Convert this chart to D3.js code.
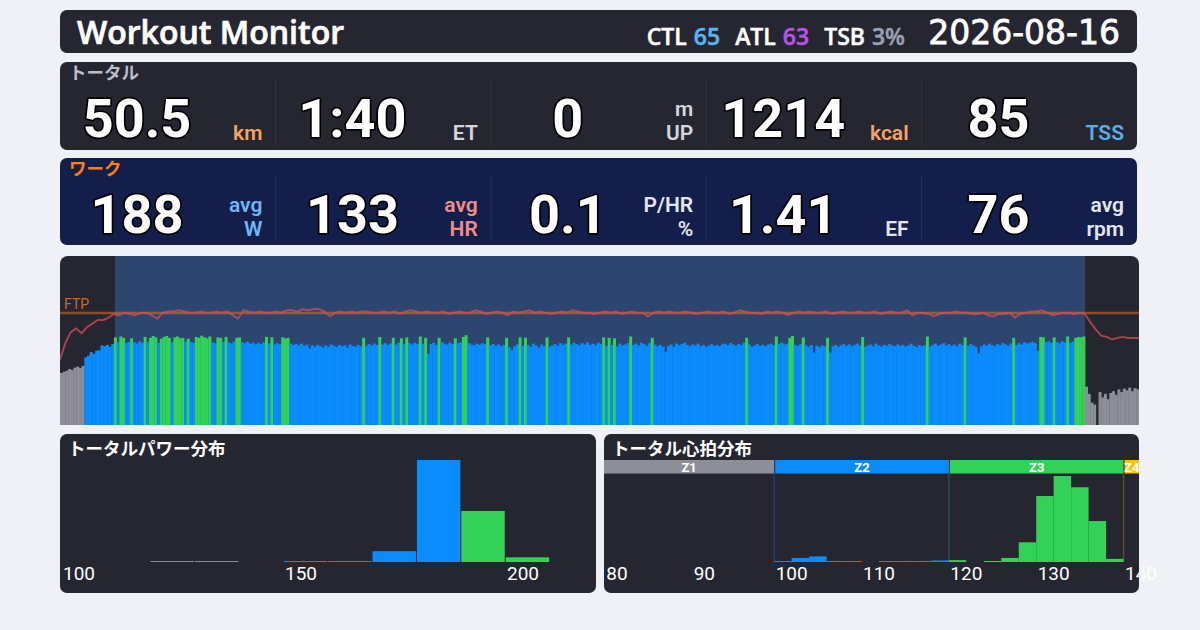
<!DOCTYPE html>
<html>
<head>
<meta charset="utf-8">
<script src="https://cdn.jsdelivr.net/npm/d3@7"></script>
<style>
  html, body { margin: 0; padding: 0; background: #eff1f6; }
  svg { display: block; }
</style>
</head>
<body>
<div id="moniteur"></div>
<script>
"use strict";

  // --- donnees ---
  var titre = "Workout Monitor";
  var dateSeance = "2026-08-16";
  var chargeNoms = ["CTL", "ATL", "TSB"];
  var chargeValeurs = ["65", "63", "3%"];

  var totalLabel = "トータル";
  var totalValeurs = ["50.5", "1:40", "0", "1214", "85"];
  var totalUnites = [["km"], ["ET"], ["m", "UP"], ["kcal"], ["TSS"]];

  var workLabel = "ワーク";
  var workValeurs = ["188", "133", "0.1", "1.41", "76"];
  var workUnites = [["avg", "W"], ["avg", "HR"], ["P/HR", "%"], ["EF"], ["avg", "rpm"]];

  var duree = 6000;          // secondes (1:40)
  var pasPuissance = 15;     // un echantillon toutes les 15 s
  var pasCardio = 30;        // un echantillon toutes les 30 s
  var intervalleWork = [305, 5700];
  var ftp = 252;
  var seuilsPuissance = [140, 190]; // Z1 | Z2 | Z3

  // puissance (W), 400 echantillons
  var puissance = [
    117,120,122,126,124,129,131,128,133,152,156,164,160,167,168,179,177,180,176,182,
    197,186,199,196,184,187,195,186,183,188,185,198,187,196,200,197,185,194,198,200,
    196,186,197,199,195,196,188,194,187,185,198,196,201,197,195,199,186,184,197,196,
    187,198,186,183,188,196,197,186,184,187,183,185,181,184,182,186,198,183,197,181,
    184,182,197,195,196,183,180,182,179,183,178,181,172,179,176,180,177,174,179,176,
    181,178,175,180,177,179,174,181,178,176,180,177,196,178,182,179,183,180,198,181,
    184,180,183,196,181,185,195,182,197,184,181,185,182,199,183,196,160,182,185,180,
    196,186,183,181,185,182,195,184,186,198,202,184,181,179,183,180,184,182,197,179,
    182,178,181,177,180,196,175,169,177,181,197,178,196,180,176,183,179,174,181,177,
    197,176,179,182,178,184,180,183,197,181,185,182,179,184,181,186,180,183,179,185,
    182,197,178,196,180,195,177,183,179,181,184,199,180,183,179,185,182,178,184,196,
    181,177,180,176,165,178,181,176,183,179,182,185,180,177,181,179,183,177,180,176,
    179,182,178,180,177,181,183,179,184,181,178,182,180,185,196,181,176,179,182,178,
    180,177,181,183,179,199,182,185,181,183,196,200,180,178,182,197,179,176,180,163,
    178,175,179,177,196,163,177,180,176,179,182,178,181,177,180,183,179,198,176,179,
    181,177,183,179,176,180,178,182,179,177,181,178,180,176,179,183,178,175,180,177,
    179,199,176,180,183,178,181,184,179,182,178,181,177,183,180,197,178,182,179,176,
    161,177,181,178,183,180,177,182,179,184,181,178,183,196,180,184,181,186,183,185,
    187,184,167,198,197,186,188,185,197,187,184,188,186,199,185,188,196,198,197,199,
    86,70,50,46,0,74,62,70,58,72,76,68,80,74,82,78,84,76,83,80
  ];

  // frequence cardiaque (bpm), 201 echantillons
  var cardio = [
    94,108,117,120,116,121,124,127,127,129,
    132,131,133,132,131,133,133,131,128,133,
    134,134,135,134,133,133,134,133,133,134,
    133,134,131,128,135,134,133,134,133,133,
    134,133,135,135,134,136,135,136,136,134,
    130,133,134,133,134,133,134,134,133,133,
    134,133,134,132,134,135,134,133,134,133,
    133,134,132,133,134,133,133,135,134,132,
    133,134,133,131,134,133,134,135,133,134,
    133,132,133,134,133,135,134,133,133,132,
    133,134,133,134,132,133,134,133,133,130,
    133,134,133,134,133,133,134,133,132,133,
    134,133,133,134,132,133,135,134,133,133,
    132,134,133,134,133,131,133,134,133,134,
    133,133,134,132,133,134,133,133,134,133,
    133,134,132,133,134,133,133,135,131,133,
    133,132,130,132,133,133,134,133,133,132,
    132,133,131,130,132,132,133,129,132,133,
    134,134,135,133,131,132,133,133,132,133,
    132,125,119,114,113,111,112,113,112,112,112
  ];

  // distribution de puissance (minutes par tranche de 10 W)
  var pTitre = "トータルパワー分布";
  var pTranches = [116, 126, 136, 146, 156, 166, 176, 186, 196];
  var pMinutes = [0.4, 0.4, 0, 0.4, 0.4, 5.3, 50, 25, 2.3];
  var pGraduations = [100, 150, 200];

  // distribution cardiaque (minutes par tranche de 2 bpm)
  var hTitre = "トータル心拍分布";
  var hTranches = [98,100,102,104,106,108,110,112,114,116,118,120,122,124,126,128,130,132,134,136];
  var hMinutes = [0.2,1.3,1.8,0.2,0.2,0,0.2,0.2,0.2,0.5,0.6,0,0.2,1.3,6.3,21.1,27.5,23.9,13.1,1.0];
  var hGraduations = [80, 90, 100, 110, 120, 130, 140];
  var hZones = ["Z1", "Z2", "Z3", "Z4"];
  var hBornes = [60, 98, 118, 138, 160];

  // --- styles ---
  var fondPanneau = "#262631";
  var fondWork = "#131f4a";
  var couleursZone = ["#8e8e99", "#0a8cff", "#32d158", "#ffc40a"];
  var chargeCouleurs = ["#5ab4f0", "#b455e8", "#9aa0b4"];
  var totalCouleurs = ["#f5a262", "#d4d6de", "#d4d6de", "#f5a262", "#5aaeea"];
  var workCouleurs = ["#6cb8f5", "#f28b8b", "#e4e6ee", "#e4e6ee", "#e4e6ee"];
  var policeLatine = "Roboto, 'Noto Sans CJK JP', sans-serif";
  var policeTitre = "'Open Sans', Roboto, sans-serif";
  var policeDate = "'DejaVu Sans', sans-serif";
  var policeJp = "'Noto Sans CJK JP', sans-serif";

  var svg = d3.select("#moniteur")
    .append("svg")
    .attr("width", 1200)
    .attr("height", 630);

  function panneau(x, y, w, h, fill){
    return svg.append("rect")
      .attr("x", x).attr("y", y)
      .attr("width", w).attr("height", h)
      .attr("rx", 7)
      .attr("fill", fill);
  }

  // --- entete ---
  panneau(60, 10, 1077, 43, fondPanneau);
  svg.append("text")
    .attr("x", 77).attr("y", 44)
    .attr("font-family", policeTitre)
    .attr("font-size", "32px")
    .attr("font-weight", 600)
    .attr("fill", "#fff")
    .attr("stroke", "#fff")
    .attr("stroke-width", 0.7)
    .text(titre);
  svg.append("text")
    .attr("x", 1120).attr("y", 44)
    .attr("text-anchor", "end")
    .attr("font-family", policeDate)
    .attr("font-size", "33px")
    .attr("fill", "#fff")
    .attr("stroke", "#fff")
    .attr("stroke-width", 0.8)
    .text(dateSeance);

  var charge = svg.append("text")
    .attr("x", 905).attr("y", 45)
    .attr("text-anchor", "end")
    .attr("font-family", policeTitre)
    .attr("font-size", "23px")
    .attr("font-weight", 600)
    .attr("stroke-width", 0.5);
  chargeNoms.forEach(function(n, i){
    charge.append("tspan").attr("dx", i ? 15 : 0)
      .attr("fill", "#fff").attr("stroke", "#fff").text(n);
    charge.append("tspan").attr("dx", 7)
      .attr("fill", chargeCouleurs[i]).attr("stroke", chargeCouleurs[i]).text(chargeValeurs[i]);
  });

  // --- rangees de chiffres ---
  function rangee(y, h, label, labelCouleur, valeurs, unites, couleurs, fill, sep){
    panneau(60, y, 1077, h, fill);
    svg.append("text")
      .attr("x", 69).attr("y", y + 17)
      .attr("font-family", policeJp)
      .attr("font-size", "17.5px")
      .attr("font-weight", 700)
      .attr("fill", labelCouleur)
      .text(label);

    var lc = 1077 / valeurs.length;
    valeurs.forEach(function(v, i){
      var x0 = 60 + i * lc, x1 = x0 + lc;
      if (i > 0)
        svg.append("line")
          .attr("x1", x0).attr("x2", x0)
          .attr("y1", y + 18).attr("y2", y + h - 4)
          .attr("stroke", sep).attr("stroke-width", 1);

      svg.append("text")
        .attr("x", x0 + 77).attr("y", y + 74.5)
        .attr("text-anchor", "middle")
        .attr("font-family", policeLatine)
        .attr("font-size", "54px")
        .attr("font-weight", 700)
        .attr("fill", "#fff")
        .attr("stroke", "#000")
        .attr("stroke-width", 3.5)
        .attr("stroke-linejoin", "round")
        .attr("paint-order", "stroke")
        .text(v);

      var u = unites[i];
      u.forEach(function(t, k){
        svg.append("text")
          .attr("x", x1 - 13)
          .attr("y", y + 78 - (u.length - 1 - k) * 24)
          .attr("text-anchor", "end")
          .attr("font-family", policeLatine)
          .attr("font-size", "21px")
          .attr("font-weight", 600)
          .attr("fill", couleurs[i])
          .text(t);
      });
    });
  }

  rangee(62, 88, totalLabel, "#b9bdcc", totalValeurs, totalUnites, totalCouleurs, fondPanneau, "#34353f");
  rangee(158, 87, workLabel, "#ff7f0a", workValeurs, workUnites, workCouleurs, fondWork, "#27325a");

  // --- graphique temporel ---
  var xT = d3.scaleLinear().domain([0, duree]).range([60, 1139]);
  var yP = d3.scaleLinear().domain([0, 380]).range([425, 256]);
  var yH = d3.scaleLinear().domain([40, 180]).range([425, 256]);

  function zonePuissance(v){
    if (v < seuilsPuissance[0]) return couleursZone[0];
    if (v < seuilsPuissance[1]) return couleursZone[1];
    return couleursZone[2];
  }

  svg.append("defs")
    .append("clipPath")
    .attr("id", "clipTrace")
    .append("rect")
    .attr("x", 60).attr("y", 256)
    .attr("width", 1079).attr("height", 190)
    .attr("rx", 8);

  var trace = svg.append("g").attr("clip-path", "url(#clipTrace)");

  trace.append("rect")
    .attr("x", 60).attr("y", 256)
    .attr("width", 1079).attr("height", 169)
    .attr("fill", fondPanneau);

  trace.append("rect")
    .attr("x", xT(intervalleWork[0])).attr("y", 256)
    .attr("width", xT(intervalleWork[1]) - xT(intervalleWork[0]))
    .attr("height", 169)
    .attr("fill", "#2c4670");

  // barres de puissance
  var lb = xT(pasPuissance) - xT(0);
  trace.selectAll("rect.puissance")
    .data(puissance)
    .enter()
    .append("rect")
      .attr("class", "puissance")
      .attr("x", function(d, i){ return xT(i * pasPuissance); })
      .attr("y", function(d){ return yP(d); })
      .attr("width", lb + 0.3)
      .attr("height", function(d){ return yP(0) - yP(d); })
      .attr("fill", zonePuissance);

  // ligne FTP
  trace.append("line")
    .attr("x1", 60).attr("x2", 1139)
    .attr("y1", yP(ftp)).attr("y2", yP(ftp))
    .attr("stroke", "#e0701e")
    .attr("stroke-opacity", 0.55)
    .attr("stroke-width", 2.5);
  trace.append("text")
    .attr("x", 64).attr("y", yP(ftp) - 3.5)
    .attr("font-family", policeLatine)
    .attr("font-size", "14px")
    .attr("fill", "#d0681e")
    .text("FTP");

  // courbe cardiaque
  var ligneCardio = d3.line()
    .x(function(d, i){ return xT(i * pasCardio); })
    .y(function(d){ return yH(d); });
  trace.append("path")
    .datum(cardio)
    .attr("d", ligneCardio)
    .attr("fill", "none")
    .attr("stroke", "#d94f55")
    .attr("stroke-opacity", 0.7)
    .attr("stroke-width", 2)
    .attr("stroke-linejoin", "round");

  // --- distribution de puissance ---
  panneau(60, 434, 536, 159, fondPanneau);
  svg.append("text")
    .attr("x", 68).attr("y", 455)
    .attr("font-family", policeJp)
    .attr("font-size", "17.5px")
    .attr("font-weight", 700)
    .attr("fill", "#fff")
    .text(pTitre);

  var xPh = d3.scaleLinear().domain([100, 200]).range([79, 523]);
  var yPh = d3.scaleLinear().domain([0, 50]).range([562, 460]);

  svg.selectAll("rect.pbin")
    .data(pTranches)
    .enter()
    .filter(function(d, i){ return pMinutes[i] > 0; })
    .append("rect")
      .attr("class", "pbin")
      .attr("x", function(d){ return xPh(d) + 0.5; })
      .attr("width", function(d){ return xPh(d + 10) - xPh(d) - 1; })
      .attr("y", function(d){ return Math.min(yPh(pMinutes[pTranches.indexOf(d)]), 561); })
      .attr("height", function(d){ return Math.max(1, 562 - yPh(pMinutes[pTranches.indexOf(d)])); })
      .attr("fill", function(d){ return zonePuissance(d + 5); });

  svg.selectAll("text.ptick")
    .data(pGraduations)
    .enter()
    .append("text")
      .attr("class", "ptick")
      .attr("x", function(d){ return xPh(d); })
      .attr("y", 580)
      .attr("text-anchor", "middle")
      .attr("font-family", policeLatine)
      .attr("font-size", "19px")
      .attr("fill", "#fff")
      .text(function(d){ return d; });

  // --- distribution cardiaque ---
  panneau(604, 434, 535, 159, fondPanneau);
  svg.append("text")
    .attr("x", 612).attr("y", 455)
    .attr("font-family", policeJp)
    .attr("font-size", "17.5px")
    .attr("font-weight", 700)
    .attr("fill", "#fff")
    .text(hTitre);

  var xHh = d3.scaleLinear().domain([80, 140]).range([617, 1141]);
  var yHh = d3.scaleLinear().domain([0, 27.5]).range([562, 476]);

  function zoneCardio(v){
    for (var k = hZones.length - 1; k >= 0; k--)
      if (v >= hBornes[k]) return k;
    return 0;
  }

  hZones.forEach(function(z, k){
    var a = Math.max(604, xHh(hBornes[k]) + (k ? 1 : 0));
    var b = Math.min(1139, xHh(hBornes[k + 1]));
    svg.append("rect")
      .attr("x", a).attr("y", 460)
      .attr("width", b - a).attr("height", 13.5)
      .attr("fill", couleursZone[k]);
    svg.append("text")
      .attr("x", (a + b) / 2).attr("y", 472)
      .attr("text-anchor", "middle")
      .attr("font-family", policeLatine)
      .attr("font-size", "13px")
      .attr("font-weight", 700)
      .attr("fill", "#fff")
      .text(z);
    if (k > 0)
      svg.append("line")
        .attr("x1", xHh(hBornes[k])).attr("x2", xHh(hBornes[k]))
        .attr("y1", 473.5).attr("y2", 562)
        .attr("stroke", couleursZone[k])
        .attr("stroke-opacity", 0.25)
        .attr("stroke-width", 1.5);
  });

  svg.selectAll("rect.hbin")
    .data(hTranches)
    .enter()
    .filter(function(d, i){ return hMinutes[i] > 0; })
    .append("rect")
      .attr("class", "hbin")
      .attr("x", function(d){ return xHh(d); })
      .attr("width", function(d){ return xHh(d + 2) - xHh(d); })
      .attr("y", function(d){ return Math.min(yHh(hMinutes[hTranches.indexOf(d)]), 561); })
      .attr("height", function(d){ return Math.max(1, 562 - yHh(hMinutes[hTranches.indexOf(d)])); })
      .attr("fill", function(d){ return couleursZone[zoneCardio(d)]; });

  svg.selectAll("text.htick")
    .data(hGraduations)
    .enter()
    .append("text")
      .attr("class", "htick")
      .attr("x", function(d){ return xHh(d); })
      .attr("y", 580)
      .attr("text-anchor", "middle")
      .attr("font-family", policeLatine)
      .attr("font-size", "19px")
      .attr("fill", "#fff")
      .text(function(d){ return d; });
</script>
</body>
</html>
